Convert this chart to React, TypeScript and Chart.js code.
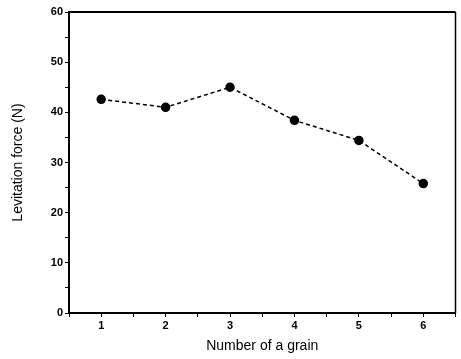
import React, { useEffect, useRef } from "react";
import { Chart, registerables } from "chart.js";
Chart.register(...registerables);

const grainNumbers = [1, 2, 3, 4, 5, 6];
const levitationForce = [42.6, 41.0, 45.0, 38.4, 34.4, 25.8];
const xTitle = "Number of a grain";
const yTitle = "Levitation force (N)";

const framePlugin = {
  id: "frame",
  afterDraw(chart: any) {
    const { ctx, chartArea } = chart;
    ctx.save();
    ctx.strokeStyle = "#000";
    ctx.lineWidth = 2;
    ctx.beginPath();
    ctx.moveTo(chartArea.left, chartArea.top);
    ctx.lineTo(chartArea.right, chartArea.top);
    ctx.stroke();
    ctx.lineWidth = 1.5;
    ctx.beginPath();
    ctx.moveTo(chartArea.right, chartArea.top);
    ctx.lineTo(chartArea.right, chartArea.bottom);
    ctx.stroke();
    ctx.restore();
  },
};

export default function App() {
  const ref = useRef<HTMLCanvasElement>(null);
  useEffect(() => {
    document.body.style.margin = "0";
    const chart = new Chart(ref.current!, {
      type: "line",
      data: {
        datasets: [
          {
            data: grainNumbers.map((x, i) => ({ x, y: levitationForce[i] })),
            borderColor: "#000",
            backgroundColor: "#000",
            borderWidth: 1.5,
            borderDash: [4, 3],
            pointRadius: 4,
            pointBackgroundColor: "#000",
            pointBorderColor: "#000",
            fill: false,
          },
        ],
      },
      options: {
        animation: false,
        responsive: false,
        layout: { padding: { top: 12, right: 1, left: 0, bottom: 0 } },
        plugins: { legend: { display: false }, tooltip: { enabled: false } },
        scales: {
          x: {
            type: "linear",
            min: 0.5,
            max: 6.5,
            afterFit(scale: any) {
              scale.height = 46;
            },
            ticks: {
              stepSize: 0.5,
              autoSkip: false,
              maxRotation: 0,
              color: "#000",
              font: { family: "Liberation Sans", size: 11, weight: "bold" },
              padding: 2,
              callback: (v: any) => (Number.isInteger(v) ? String(v) : ""),
            },
            grid: {
              drawOnChartArea: false,
              tickLength: 4,
              color: "#000",
              tickColor: "#000",
            },
            border: { color: "#000", width: 2 },
            title: {
              display: true,
              text: xTitle,
              color: "#000",
              font: { family: "Liberation Sans", size: 14 },
              padding: { top: 6 },
            },
          },
          y: {
            min: 0,
            max: 60,
            afterFit(scale: any) {
              scale.width = 69;
            },
            ticks: {
              stepSize: 5,
              autoSkip: false,
              color: "#000",
              font: { family: "Liberation Sans", size: 11, weight: "bold" },
              padding: 2,
              callback: (v: any) => (v % 10 === 0 ? String(v) : ""),
            },
            grid: {
              drawOnChartArea: false,
              tickLength: 4,
              color: "#000",
              tickColor: "#000",
            },
            border: { color: "#000", width: 2 },
            title: {
              display: true,
              text: yTitle,
              color: "#000",
              font: { family: "Liberation Sans", size: 14 },
              padding: { top: 10, bottom: 8 },
            },
          },
        },
      },
      plugins: [framePlugin],
    });
    return () => chart.destroy();
  }, []);
  return (
    <div style={{ width: 461, height: 359 }}>
      <canvas ref={ref} width={461} height={359} style={{ display: "block" }} />
    </div>
  );
}
